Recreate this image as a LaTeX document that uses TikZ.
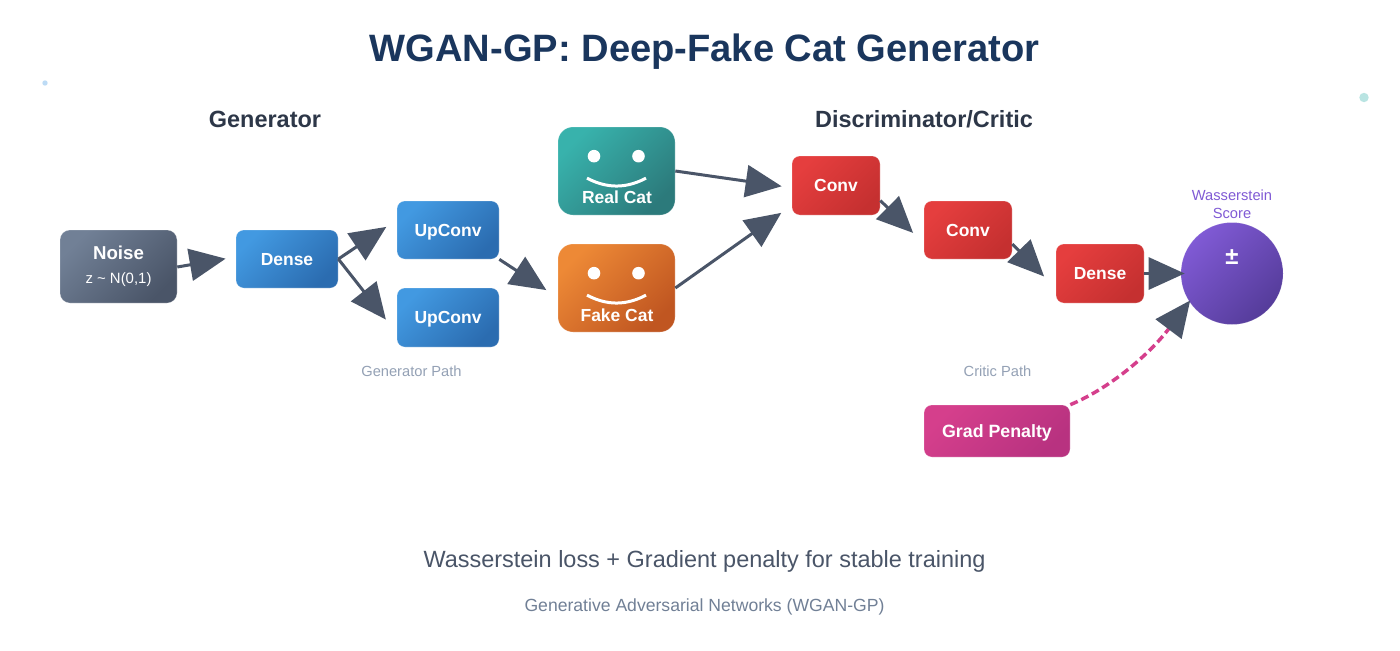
\documentclass[tikz,border=0pt]{standalone}
\usepackage{fontspec}
\setmainfont{Liberation Sans}
\usetikzlibrary{arrows.meta,calc,backgrounds,shapes.geometric}
\definecolor{cgrayA}{HTML}{718096}\definecolor{cgrayB}{HTML}{4A5568}
\definecolor{cblueA}{HTML}{4299E1}\definecolor{cblueB}{HTML}{2B6CB0}
\definecolor{ctealA}{HTML}{38B2AC}\definecolor{ctealB}{HTML}{2C7A7B}
\definecolor{corngA}{HTML}{ED8936}\definecolor{corngB}{HTML}{C05621}
\definecolor{credA}{HTML}{E53E3E}\definecolor{credB}{HTML}{C53030}
\definecolor{cpurA}{HTML}{805AD5}\definecolor{cpurB}{HTML}{553C9A}
\definecolor{cpnkA}{HTML}{D53F8C}\definecolor{cpnkB}{HTML}{B83280}
\definecolor{ctitle}{HTML}{1A365D}\definecolor{chead}{HTML}{2D3748}
\definecolor{cnote}{HTML}{94A1B5}
\tikzset{
  x=0.75pt,y=-0.75pt,
  sz/.style 2 args={minimum width=#1*0.75pt,minimum height=#2*0.75pt},
  boxbase/.style={rectangle,inner sep=0pt,text=white,font=\bfseries\fontsize{13.1}{15}\selectfont,
    draw=white,draw opacity=.25,line width=.5pt,align=center,text height=9.4pt,text depth=0pt},
  grad/.style 2 args={top color=#1,bottom color=#2,shading=axis,shading angle=45},
  small/.style={boxbase,rounded corners=6pt},
  big/.style={boxbase,rounded corners=11.25pt},
  noisebox/.style={small,rounded corners=7.5pt,text height=,text depth=,grad={cgrayA}{cgrayB}},
  bluebox/.style={small,grad={cblueA}{cblueB}},
  redbox/.style={small,grad={credA}{credB}},
  pinkbox/.style={small,grad={cpnkA}{cpnkB}},
  tealbox/.style={big,grad={ctealA}{ctealB}},
  orangebox/.style={big,grad={corngA}{corngB}},
  scorecirc/.style={circle,inner sep=0pt,minimum size=76.5pt,grad={cpurA}{cpurB},draw=white,draw opacity=.15,line width=.5pt},
  arr/.style={draw=cgrayB,line width=2.25pt,shorten >=-1.5pt,-{Triangle[length=27pt,width=24pt,color=cgrayB]}},
  dasharr/.style={draw=cpnkA,line width=2.6pt,shorten >=-1.5pt,dash pattern=on 6pt off 3pt,-{Triangle[length=27pt,width=24pt,color=cgrayB]}},
  heading/.style={font=\bfseries\fontsize{17.6}{21}\selectfont,text=chead},
  note/.style={font=\fontsize{11}{13}\selectfont,text=cnote},
  face/.style={white,line width=2.25pt},
  catlabel/.style={font=\bfseries\fontsize{13.1}{15}\selectfont,text=white},
}
\newcommand{\softbox}[2]{%
  \foreach \w/\o in {20/.014,15/.02,10/.026,6/.032,2/.04}{
    \draw[black,draw opacity=\o,fill=black,fill opacity=\o,line width=\w*0.75pt,line join=round,rounded corners=#2]
      ($(#1.north west)+(0,4)$) rectangle ($(#1.south east)+(0,4)$);}}
\newcommand{\catface}[1]{%
  \fill[white] ($(#1.north)+(-22.5,29.5)$) circle[radius=6.3];
  \fill[white] ($(#1.north)+(22,29.5)$) circle[radius=6.3];
  \draw[face] ($(#1.north)+(-29.5,51.5)$) .. controls ($(#1.north)+(-9.5,62)$) and ($(#1.north)+(9.5,62)$) .. ($(#1.north)+(29.5,51.5)$);}
\begin{document}
\begin{tikzpicture}
\useasboundingbox (0,0) rectangle (1400,650);
\fill[white] (0,0) rectangle (1400,650);
\fill[cblueA!35] (45,83) circle[radius=2.7];
\fill[ctealA!35] (1364,97.5) circle[radius=4.7];

\node[font=\bfseries\fontsize{28.6}{34}\selectfont,text=ctitle] (title) at (704.5,52) {WGAN-GP: Deep-Fake Cat Generator};
\node[heading] (hgen) at (265,119) {Generator};
\node[heading] (hdisc) at (924,119) {Discriminator/Critic};

\node[noisebox,sz={117}{73}] (noise) at (118.5,266.5)
  {{\fontsize{14}{16}\selectfont Noise}\\[3pt]{\mdseries\fontsize{11.2}{13}\selectfont z \char`\~{} N(0,1)}};
\node[bluebox,sz={102}{58}] (dense1) at (287,259) {Dense};
\node[bluebox,sz={102}{58}] (up1) at (448,230) {UpConv};
\node[bluebox,sz={102}{59}] (up2) at (448,317.5) {UpConv};
\node[tealbox,sz={117}{88}] (real) at (616.5,171) {};
\node[orangebox,sz={117}{88}] (fake) at (616.5,288) {};
\node[redbox,sz={88}{59}] (conv1) at (836,185.5) {Conv};
\node[redbox,sz={88}{58}] (conv2) at (968,230) {Conv};
\node[redbox,sz={88}{59}] (dense2) at (1100,273.5) {Dense};
\node[scorecirc] (score) at (1232,273.5) {};
\node[pinkbox,sz={146}{52}] (penalty) at (997,431) {\fontsize{13.35}{15}\selectfont Grad Penalty};

\catface{real}
\catface{fake}
\node[catlabel] (reallbl) at (617,197) {Real Cat};
\node[catlabel] (fakelbl) at (617,315) {Fake Cat};
\node[font=\bfseries\fontsize{18}{20}\selectfont,text=white] (pm) at (1232,257) {±};
\node[align=center,font=\fontsize{11}{13.5}\selectfont,text=cpurA] (wlabel) at (1232,204) {Wasserstein\\Score};
\node[note] (gpath) at (411.5,371) {Generator Path};
\node[note] (cpath) at (997.5,371) {Critic Path};
\node[font=\fontsize{17.6}{22}\selectfont,text=cgrayB] (loss) at (704.5,561) {Wasserstein loss + Gradient penalty for stable training};
\node[font=\fontsize{13.2}{16}\selectfont,text=cgrayA] (foot) at (704.5,606.5) {Generative Adversarial Networks (WGAN-GP)};

\begin{scope}[on background layer]
  \softbox{noise}{7.5pt}\softbox{dense1}{6pt}\softbox{up1}{6pt}\softbox{up2}{6pt}
  \softbox{real}{11.25pt}\softbox{fake}{11.25pt}
  \softbox{conv1}{6pt}\softbox{conv2}{6pt}\softbox{dense2}{6pt}\softbox{penalty}{6pt}
  \foreach \w/\o in {20/.014,15/.02,10/.026,6/.032,2/.04}{
    \draw[black,draw opacity=\o,fill=black,fill opacity=\o,line width=\w*0.75pt]
      ($(score.center)+(0,4)$) circle[radius=51];}
\end{scope}

\draw[arr] ($(noise.east)+(0,.5)$) -- ($(dense1.west)+(-12,0)$);
\draw[arr] (dense1.east) -- ($(up1.west)+(-12,-2)$);
\draw[arr] (dense1.east) -- ($(up2.west)+(-12,.5)$);
\draw[arr] (up1.south east) -- ($(fake.west)+(-13,1)$);
\draw[arr] (real.east) -- ($(conv1.west)+(-12,.5)$);
\draw[arr] (fake.east) -- ($(conv1.west)+(-12,28.5)$);
\draw[arr] ($(conv1.east)+(0,15)$) -- ($(conv2.west)+(-12,1.5)$);
\draw[arr] ($(conv2.east)+(0,14)$) -- ($(dense2.west)+(-13,1.5)$);
\draw[arr] (dense2.east) -- ($(score.west)+(2,0)$);
\draw[dasharr] (penalty.north east) .. controls ($(penalty.north east)+(40,-16.7)$) and ($(score.center)+(-82.3,80.5)$) .. ($(score.center)+(-43,28.5)$);
\end{tikzpicture}
\end{document}
